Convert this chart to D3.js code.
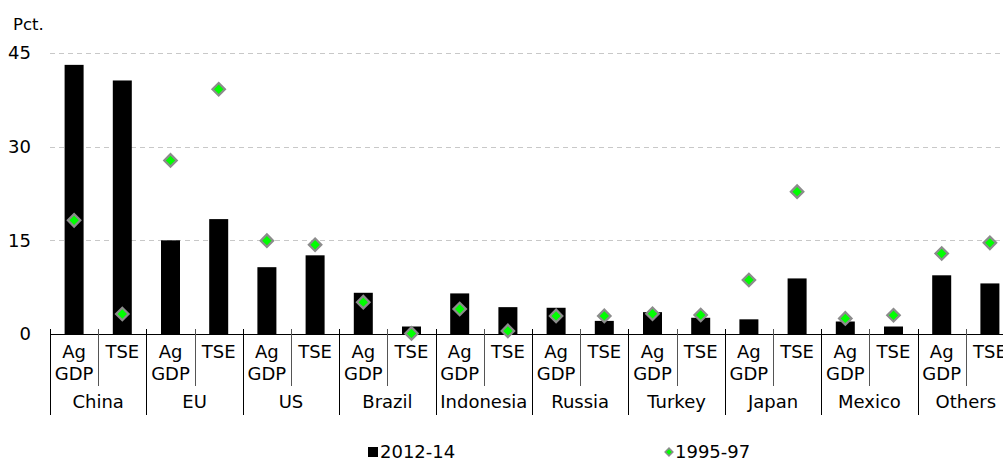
<!DOCTYPE html>
<html>
<head>
<meta charset="utf-8">
<script src="https://cdn.jsdelivr.net/npm/d3@7"></script>
<style>
body{margin:0;background:#fff;}
svg{display:block;font-family:"DejaVu Sans",Verdana,sans-serif;}
</style>
</head>
<body>
<svg id="chart" width="1003" height="465"></svg>
<script>
(function(){
var groups = ["China","EU","US","Brazil","Indonesia","Russia","Turkey","Japan","Mexico","Others"];
var measures = ["Ag GDP","TSE"];
// 2012-14 bars, pct.
var recent = [43.1,40.6, 15.0,18.4, 10.7,12.6, 6.6,1.2, 6.5,4.3, 4.2,2.1, 3.5,2.6, 2.35,8.9, 2.0,1.2, 9.4,8.1];
// 1995-97 markers, pct.
var early = [18.2,3.2, 27.8,39.2, 14.95,14.3, 5.1,0.1, 4.0,0.5, 2.9,2.9, 3.25,3.05, 8.65,22.8, 2.5,3.0, 12.9,14.6];
var yTicks = [0,15,30,45];
var seriesNames = ["2012-14","1995-97"];

var svg = d3.select("#chart");
var W = 1003, FS = 18;
var x0 = 50, bandW = 48.2;

var rows = [];
groups.forEach(function(g, gi){
	measures.forEach(function(m, mi){
		var idx = gi*measures.length + mi;
		rows.push({key: g + "|" + m, group: g, measure: m, v: recent[idx], e: early[idx]});
	});
});

// plot runs a bit past the right edge, like the original
var x = d3.scaleBand().domain(rows.map(function(d){return d.key;}))
		.range([x0, x0 + bandW*rows.length]);
var xg = d3.scaleBand().domain(groups).range(x.range());
var y = d3.scaleLinear().domain([0,45]).range([334,53]);

// gridlines
svg.append("g").selectAll("line").data(yTicks.filter(function(t){return t>0;})).enter()
	.append("line")
	.attr("x1", x0).attr("x2", W)
	.attr("y1", function(d){return Math.round(y(d))+0.5;})
	.attr("y2", function(d){return Math.round(y(d))+0.5;})
	.attr("stroke", "#c8c8c8").attr("stroke-width", 1)
	.attr("stroke-dasharray", "5,4");

// y labels
svg.append("g").selectAll("text").data(yTicks).enter().append("text")
	.attr("x", 31).attr("y", function(d){return y(d);})
	.attr("dy", "0.35em").attr("text-anchor", "end")
	.attr("font-size", FS).attr("fill", "#000")
	.text(function(d){return d;});
svg.append("text").attr("x", 13).attr("y", 24).attr("dy", "0.35em")
	.attr("font-size", 16.5).text("Pct.");

// bars
var barW = 19;
svg.append("g").selectAll("rect").data(rows).enter().append("rect")
	.attr("x", function(d){return x(d.key) + x.bandwidth()/2 - barW/2;})
	.attr("width", barW)
	.attr("y", function(d){return y(d.v);})
	.attr("height", function(d){return y(0) - y(d.v);})
	.attr("fill", "#000");

// axis line + separators
var ax = svg.append("g");
ax.append("line").attr("x1", x0).attr("x2", W).attr("y1", 334.5).attr("y2", 334.5)
	.attr("stroke", "#000");
var bounds = d3.range(rows.length).map(function(i){return x0 + i*bandW;});
ax.selectAll("line.sep").data(bounds).enter().append("line")
	.attr("class", "sep")
	.attr("x1", function(d){return Math.round(d)+0.5;})
	.attr("x2", function(d){return Math.round(d)+0.5;})
	.attr("y1", 329)
	.attr("y2", function(d, i){return i % 2 === 0 ? 415 : 386;})
	.attr("stroke", function(d, i){return i % 2 === 0 ? "#000" : "#555";});

// sub labels
var sub = svg.append("g").attr("font-size", FS).attr("text-anchor", "middle");
rows.forEach(function(d){
	var cx = x(d.key) + x.bandwidth()/2;
	var parts = d.measure.split(" ");
	parts.forEach(function(p, pi){
		sub.append("text").attr("x", cx).attr("y", 352 + pi*22).attr("dy", "0.35em").text(p);
	});
});
// group labels
svg.append("g").attr("font-size", FS).attr("text-anchor", "middle")
	.selectAll("text").data(groups).enter().append("text")
	.attr("x", function(d){return xg(d) + xg.bandwidth()/2;})
	.attr("y", 402).attr("dy", "0.35em")
	.text(function(d){return d;});

// diamonds
var diamond = d3.symbol().type(d3.symbolSquare).size(78);
svg.append("g").selectAll("path").data(rows).enter().append("path")
	.attr("d", diamond)
	.attr("transform", function(d){
		return "translate(" + (x(d.key) + x.bandwidth()/2) + "," + y(d.e) + ") rotate(45)";
	})
	.attr("fill", "#00ff00").attr("stroke", "#8c8c8c").attr("stroke-width", 2.2);

// legend
var lg = svg.append("g").attr("font-size", FS);
lg.append("rect").attr("x", 368).attr("y", 447).attr("width", 10).attr("height", 10).attr("fill", "#000");
lg.append("text").attr("x", 380).attr("y", 452).attr("dy", "0.35em").text(seriesNames[0]);
lg.append("path").attr("d", d3.symbol().type(d3.symbolSquare).size(30))
	.attr("transform", "translate(669,452) rotate(45)")
	.attr("fill", "#00ff00").attr("stroke", "#8c8c8c").attr("stroke-width", 1.5);
lg.append("text").attr("x", 675).attr("y", 452).attr("dy", "0.35em").text(seriesNames[1]);
})();
</script>
</body>
</html>
